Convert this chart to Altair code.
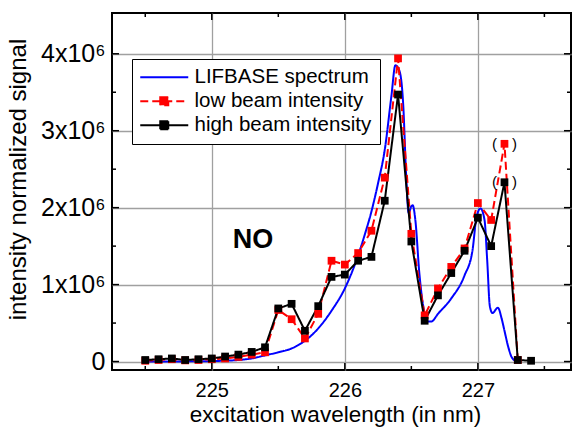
import altair as alt
import pandas as pd

# ---- data ----
wavelength = [224.5, 224.6, 224.7, 224.8, 224.9, 225.0, 225.1, 225.2, 225.3, 225.4,
              225.5, 225.6, 225.7, 225.8, 225.9, 226.0, 226.1, 226.2, 226.3, 226.4,
              226.5, 226.6, 226.7, 226.8, 226.9, 227.0, 227.1, 227.2, 227.3, 227.4]
high_beam = [0.02, 0.03, 0.04, 0.02, 0.03, 0.04, 0.065, 0.09, 0.125, 0.185,
             0.69, 0.75, 0.40, 0.72, 1.10, 1.13, 1.31, 1.36, 2.09, 3.47,
             1.56, 0.53, 0.86, 1.15, 1.44, 1.87, 1.50, 2.33, 0.02, 0.01]
low_wavelength = wavelength[:29]
low_beam = [0.01, 0.02, 0.03, 0.015, 0.02, 0.03, 0.04, 0.06, 0.09, 0.12,
            0.67, 0.55, 0.30, 0.62, 1.31, 1.26, 1.41, 1.70, 2.39, 3.94,
            1.66, 0.60, 0.95, 1.23, 1.47, 2.06, 1.84, 2.83, 0.02]
lifbase_wl = [224.5, 224.8, 225.0, 225.2, 225.3, 225.4, 225.5, 225.6, 225.7, 225.8,
              225.9, 226.0, 226.1, 226.15, 226.2, 226.25, 226.3, 226.35, 226.38, 226.41,
              226.44, 226.46, 226.48, 226.5, 226.51, 226.53, 226.56, 226.59, 226.62, 226.65,
              226.7, 226.8, 226.9, 226.96, 226.99, 227.02, 227.05, 227.07, 227.09, 227.11,
              227.15, 227.18, 227.2, 227.23, 227.26, 227.3]
lifbase = [0.0, 0.002, 0.006, 0.02, 0.04, 0.08, 0.12, 0.17, 0.27, 0.43,
           0.66, 0.95, 1.38, 1.65, 1.95, 2.32, 2.75, 3.45, 3.85, 3.78,
           3.30, 2.45, 1.93, 2.02, 2.03, 1.84, 1.15, 0.71, 0.52, 0.52,
           0.62, 0.82, 1.12, 1.45, 1.88, 1.99, 1.84, 1.32, 0.72, 0.63,
           0.70, 0.55, 0.40, 0.18, 0.04, 0.0]

series_names = ["LIFBASE spectrum", "low beam intensity", "high beam intensity"]
series_colors = ["#0000ff", "#ff0000", "#000000"]
series_dash = [[1, 0], [8, 4], [1, 0]]

x_major = [225, 226, 227]
x_minor = [224.5, 225.5, 226.5, 227.5]
y_major = [0, 1, 2, 3, 4]
y_minor = [0.5, 1.5, 2.5, 3.5]

annotation_text = ["NO"]
annotation_wl = [225.31]
annotation_sig = [1.58]

# ---- tables ----
blue_df = pd.DataFrame({"wl": lifbase_wl, "sig": lifbase, "series": series_names[0]})
meas_df = pd.concat([
    pd.DataFrame({"wl": low_wavelength, "sig": low_beam, "series": series_names[1]}),
    pd.DataFrame({"wl": wavelength, "sig": high_beam, "series": series_names[2]}),
], ignore_index=True)
low_df = meas_df[meas_df.series == series_names[1]]
high_df = meas_df[meas_df.series == series_names[2]]
paren_label = "(\u2002\u2002)"
paren_df = pd.DataFrame({"wl": [low_wavelength[27], wavelength[27]],
                         "sig": [low_beam[27], high_beam[27]],
                         "t": [paren_label, paren_label]})
no_df = pd.DataFrame({"wl": annotation_wl, "sig": annotation_sig, "t": annotation_text})

W, H = 459, 357
FONT = "Liberation Sans"

xscale = alt.Scale(domain=[224.25, 227.7], nice=False, zero=False)
yscale = alt.Scale(domain=[-0.11, 4.53], nice=False, zero=False)

xaxis = alt.Axis(values=x_major, format="d", title="excitation wavelength (in nm)",
                 labelFontSize=20, labelPadding=10, labelColor="black",
                 titleFontSize=22.5, titleFontWeight="normal", titleColor="black",
                 titleY=51, titleBaseline="alphabetic", titleX=223,
                 grid=True, gridColor="#a0a0a0", gridWidth=1.3,
                 ticks=False, tickSize=0, domain=False, labelFlush=False)
yaxis = alt.Axis(values=y_major, title="intensity normalized signal",
                 labelExpr="datum.value == 0 ? '0' : format(datum.value, 'd') + 'x10\u2076'",
                 labelFontSize=25, labelPadding=7, labelColor="black",
                 titleFontSize=24, titleFontWeight="normal", titleColor="black",
                 titleX=-87, titleY=166, titleBaseline="alphabetic",
                 grid=True, gridColor="#a0a0a0", gridWidth=1.3,
                 ticks=False, tickSize=0, domain=False, labelFlush=False)

X = alt.X("wl:Q", scale=xscale, axis=xaxis)
Y = alt.Y("sig:Q", scale=yscale, axis=yaxis)

# legend symbols: a 48px line, with a filled square for the measured series
sym_path = ("datum.value == 'LIFBASE spectrum' ? 'M-24,0H24' : "
            "'M-24,0H24M-4,-4H4V4H-4Z'")
leg = alt.Legend(title=None, orient="none", legendX=20, legendY=46,
                 labelFontSize=20.5, labelFont=FONT, labelColor="black", labelLimit=400,
                 symbolSize=4, symbolStrokeWidth=2, symbolOffset=14,
                 symbolType=alt.ExprRef(expr=sym_path),
                 symbolFillColor=alt.ExprRef(expr="scale('color', datum.value)"),
                 strokeColor="black", fillColor="white", padding=8,
                 rowPadding=3, labelOffset=20)

color = alt.Color("series:N", scale=alt.Scale(domain=series_names, range=series_colors), legend=leg)
dash = alt.StrokeDash("series:N", scale=alt.Scale(domain=series_names, range=series_dash), legend=leg)

blue = alt.Chart(blue_df).mark_line(strokeWidth=2, interpolate="monotone").encode(
    x=X, y=Y, color=color, strokeDash=dash)
meas = alt.Chart(meas_df).mark_line(strokeWidth=2).encode(
    x=X, y=Y, color=color, strokeDash=dash)
red_pts = alt.Chart(low_df).mark_point(shape="square", filled=True, size=60, opacity=1,
                                       color="#ff0000").encode(x=X, y=Y)
black_pts = alt.Chart(high_df).mark_point(shape="square", filled=True, size=60, opacity=1,
                                          color="#000000").encode(x=X, y=Y)
parens = alt.Chart(paren_df).mark_text(fontSize=15, font=FONT, color="black",
                                       baseline="middle", align="center").encode(
    x=X, y=Y, text="t:N")
no_txt = alt.Chart(no_df).mark_text(fontSize=27, font=FONT, fontWeight="bold", color="black",
                                    baseline="middle", align="center").encode(
    x=X, y=Y, text="t:N")

def xticks(vals, length, bottom):
    d = pd.DataFrame({"wl": vals})
    y0 = H if bottom else 0
    y1 = H - length if bottom else length
    return alt.Chart(d).mark_rule(color="black", strokeWidth=1.5).encode(
        x=X, y=alt.value(y0), y2=alt.value(y1))

def yticks(vals, length, left):
    d = pd.DataFrame({"sig": vals})
    x0 = 0 if left else W
    x1 = length if left else W - length
    return alt.Chart(d).mark_rule(color="black", strokeWidth=1.5).encode(
        y=Y, x=alt.value(x0), x2=alt.value(x1))

tick_layers = [xticks(x_major, 7, True), xticks(x_minor, 4, True),
               xticks(x_major, 7, False), xticks(x_minor, 4, False),
               yticks(y_major, 7, True), yticks(y_minor, 4, True),
               yticks(y_major, 7, False), yticks(y_minor, 4, False)]

chart = alt.layer(blue, meas, red_pts, black_pts, parens, no_txt, *tick_layers).properties(
    width=W, height=H,
    autosize=alt.AutoSizeParams(type="none"),
    padding={"left": 112, "top": 13, "right": 3, "bottom": 67},
).configure(font=FONT).configure_view(stroke="black", strokeWidth=2)

chart.save("out.html", embed_options={"renderer": "svg", "actions": False})
